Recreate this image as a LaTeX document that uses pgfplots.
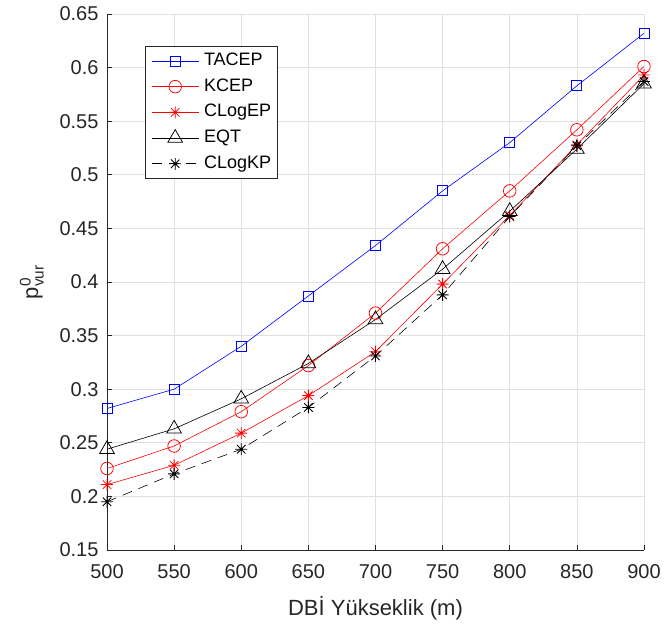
\documentclass[border=0pt]{standalone}
\usepackage{pgfplots}
\pgfplotsset{compat=1.18}
\usepackage{amsmath}
\usepackage{fontspec}
\setmainfont{Liberation Sans}
\definecolor{mblue}{rgb}{0,0,1}
\definecolor{mred}{rgb}{1,0,0}
\definecolor{gridc}{rgb}{0.88,0.88,0.88}
\definecolor{axc}{rgb}{0.15,0.15,0.15}
\pgfdeclareplotmark{mstar}{%
  \pgfpathmoveto{\pgfpoint{0pt}{\pgfplotmarksize}}\pgfpathlineto{\pgfpoint{0pt}{-\pgfplotmarksize}}%
  \pgfpathmoveto{\pgfpoint{\pgfplotmarksize}{0pt}}\pgfpathlineto{\pgfpoint{-\pgfplotmarksize}{0pt}}%
  \pgfpathmoveto{\pgfpoint{0.707\pgfplotmarksize}{0.707\pgfplotmarksize}}\pgfpathlineto{\pgfpoint{-0.707\pgfplotmarksize}{-0.707\pgfplotmarksize}}%
  \pgfpathmoveto{\pgfpoint{-0.707\pgfplotmarksize}{0.707\pgfplotmarksize}}\pgfpathlineto{\pgfpoint{0.707\pgfplotmarksize}{-0.707\pgfplotmarksize}}%
  \pgfusepathqstroke}
\begin{document}
\begin{tikzpicture}
\begin{axis}[
  scale only axis, width=537pt, height=536pt,
  xmin=500, xmax=900, ymin=0.15, ymax=0.65,
  xtick={500,550,600,650,700,750,800,850,900},
  ytick={0.15,0.2,0.25,0.3,0.35,0.4,0.45,0.5,0.55,0.6,0.65},
  yticklabels={0.15,0.2,0.25,0.3,0.35,0.4,0.45,0.5,0.55,0.6,0.65},
  axis x line*=bottom, axis y line*=left,
  axis line style={-, draw=axc, line width=0.7pt},
  tick align=inside, major tick length=5pt,
  tick style={draw=axc, line width=0.6pt},
  grid=major, major grid style={draw=gridc, line width=0.7pt},
  ticklabel style={font=\fontsize{20}{24}\selectfont, text=axc},
  xticklabel style={yshift=-11pt},
  yticklabel style={xshift=-5pt},
  /pgf/number format/assume math mode=true,
  xlabel={DBİ Yükseklik (m)},
  xlabel style={font=\fontsize{22}{26}\selectfont, text=axc, at={(axis description cs:0.5,-0.08)}, anchor=north},
  ylabel={$\text{p}^{\text{0}}_{\text{vur}}$},
  ylabel style={font=\fontsize{22}{26}\selectfont, text=axc, at={(axis description cs:-0.14,0.5)}, anchor=center},
  legend style={at={(axis description cs:0.071,0.94)}, anchor=north west,
    font=\fontsize{18}{21}\selectfont, draw=axc, line width=0.6pt, fill=white,
    inner xsep=6pt, inner ysep=6pt,
    nodes={inner sep=0pt, text height=13pt, text depth=4pt, text=black},
    row sep=8.7pt, column sep=5pt},
  legend cell align=left,
  legend image code/.code={\draw[mark repeat=2,mark phase=2] plot coordinates {(0pt,0pt) (23.5pt,0pt) (47pt,0pt)};},
]
\addplot[mblue, line width=0.6pt, mark=square, mark size=5pt, mark options={solid, line width=0.75pt}] coordinates {
(500,0.282) (550,0.300) (600,0.340) (650,0.387) (700,0.434) (750,0.485) (800,0.530) (850,0.583) (900,0.632)};
\addlegendentry{TACEP}
\addplot[mred, line width=0.6pt, mark=o, mark size=6.3pt, mark options={solid, line width=0.75pt}] coordinates {
(500,0.226) (550,0.247) (600,0.279) (650,0.322) (700,0.371) (750,0.431) (800,0.485) (850,0.542) (900,0.601)};
\addlegendentry{KCEP}
\addplot[mred, line width=0.6pt, mark=mstar, mark size=6pt, mark options={solid, line width=0.8pt}] coordinates {
(500,0.211) (550,0.229) (600,0.259) (650,0.294) (700,0.335) (750,0.398) (800,0.462) (850,0.528) (900,0.593)};
\addlegendentry{CLogEP}
\addplot[black, line width=0.6pt, mark=triangle, mark size=8.5pt, mark options={solid, line width=0.75pt}] coordinates {
(500,0.244) (550,0.263) (600,0.291) (650,0.324) (700,0.365) (750,0.412) (800,0.466) (850,0.524) (900,0.585)};
\addlegendentry{EQT}
\addplot[black, line width=0.6pt, dash pattern=on 10pt off 7pt, mark=mstar, mark size=6pt, mark options={solid, line width=0.8pt}] coordinates {
(500,0.195) (550,0.221) (600,0.244) (650,0.283) (700,0.331) (750,0.388) (800,0.461) (850,0.527) (900,0.587)};
\addlegendentry{CLogKP}
\end{axis}
\path ([xshift=-107pt,yshift=-71pt]current axis.south west) ([xshift=20pt,yshift=14pt]current axis.north east);
\end{tikzpicture}
\end{document}
